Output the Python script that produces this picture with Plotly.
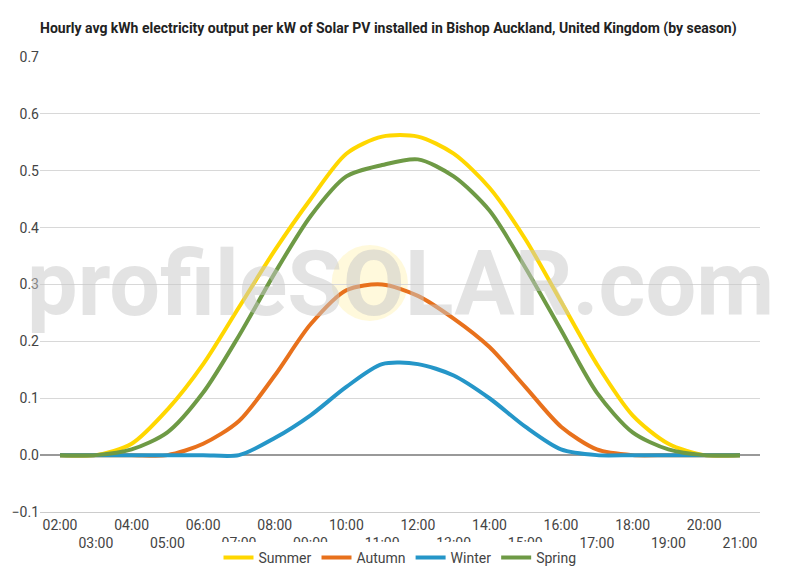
import plotly.graph_objects as go

hours = [f"{h:02d}:00" for h in range(2, 22)]
summer = [0,0,0.02,0.08,0.16,0.26,0.36,0.45,0.53,0.56,0.56,0.53,0.47,0.38,0.27,0.16,0.07,0.02,0,0]
autumn = [0,0,0,0,0.02,0.06,0.14,0.23,0.29,0.30,0.28,0.24,0.19,0.12,0.05,0.01,0,0,0,0]
winter = [0,0,0,0,0,0,0.03,0.07,0.12,0.16,0.16,0.14,0.10,0.05,0.01,0,0,0,0,0]
spring = [0,0,0.01,0.04,0.11,0.21,0.32,0.42,0.49,0.51,0.52,0.49,0.43,0.33,0.22,0.11,0.04,0.01,0,0]

series = [("Summer", summer, "#FFD700"), ("Autumn", autumn, "#E8711C"),
          ("Winter", winter, "#2596C8"), ("Spring", spring, "#6E9A45")]

fig = go.Figure()
for name, vals, col in series:
    fig.add_trace(go.Scatter(x=hours, y=vals, name=name, mode="lines",
                             line=dict(color=col, width=4, shape="spline", smoothing=0.8)))

ticktext = [h if i % 2 == 0 else "<br>" + h for i, h in enumerate(hours)]
fig.add_shape(type="circle", xref="paper", yref="paper", x0=0.405, x1=0.511, y0=0.42, y1=0.587,
              fillcolor="rgba(255,235,140,0.3)", line_width=0, layer="below")
fig.add_annotation(text="<b>profileSOLAR.com</b>", xref="paper", yref="paper", x=0.5, y=0.50,
                   showarrow=False, font=dict(size=90, color="rgba(200,200,200,0.5)", family="Roboto"))
fig.update_layout(
    width=800, height=570, paper_bgcolor="white", plot_bgcolor="white",
    margin=dict(l=32, r=48, t=49, b=66, autoexpand=False),
    title=dict(text="<b>Hourly avg kWh electricity output per kW of Solar PV installed in Bishop Auckland, United Kingdom (by season)</b>",
               x=0.04, xanchor="left", y=0.965, yanchor="middle", font=dict(size=14, color="#222", family="Roboto")),
    font=dict(family="Roboto", color="#444", size=14),
    xaxis=dict(tickmode="array", tickvals=hours, ticktext=ticktext, showgrid=False, automargin=False,
               showline=True, linecolor="#ccc", tickangle=0, range=[-0.56, 19.56]),
    yaxis=dict(range=[-0.1, 0.7], dtick=0.1, gridcolor="#d8d8d8", zeroline=True, automargin=False,
               zerolinecolor="#999", tickformat=".1f"),
    legend=dict(orientation="h", x=0.5, xanchor="center", y=-0.101, yanchor="middle", font=dict(size=14)),
)
fig.write_html("out.html")
